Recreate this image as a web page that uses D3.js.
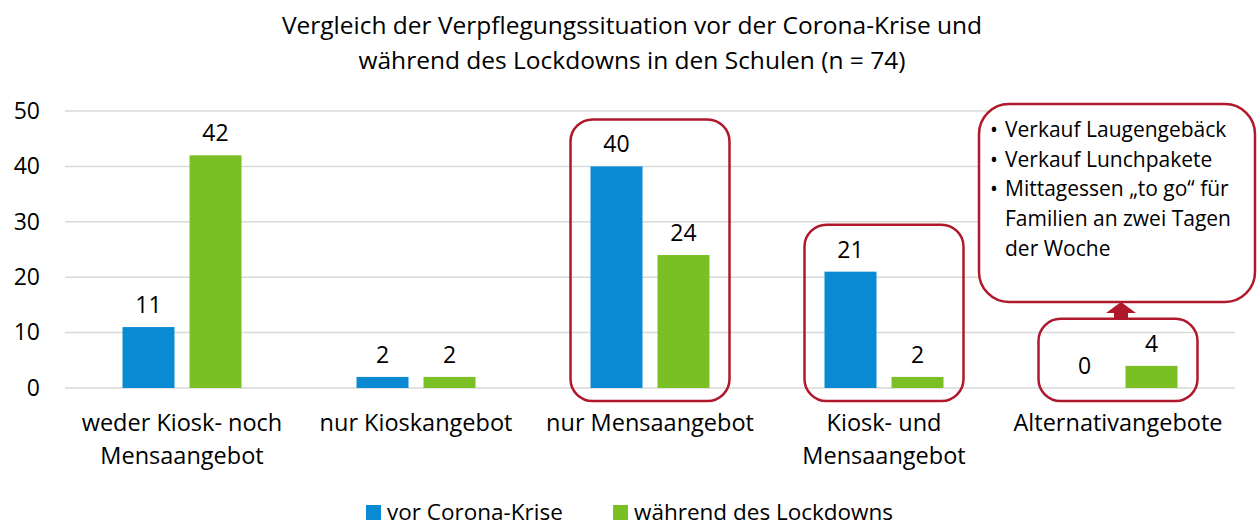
<!DOCTYPE html>
<html>
<head>
<meta charset="utf-8">
<script src="https://cdn.jsdelivr.net/npm/d3@7"></script>
<style>
  body { margin: 0; background: #fff; }
  text { font-family: "Open Sans", sans-serif; fill: #000; }
</style>
</head>
<body>
<script>
// chart data
var categories = [["weder Kiosk- noch", "Mensaangebot"], ["nur Kioskangebot"], ["nur Mensaangebot"], ["Kiosk- und", "Mensaangebot"], ["Alternativangebote"]];
var series = ["vor Corona-Krise", "während des Lockdowns"];
var vorCorona = [11, 2, 40, 21, 0];
var lockdown = [42, 2, 24, 2, 4];
var yTicks = [0, 10, 20, 30, 40, 50];
var titleLines = ["Vergleich der Verpflegungssituation vor der Corona-Krise und", "während des Lockdowns in den Schulen (n = 74)"];
var highlighted = [2, 3, 4];
var calloutLines = ["Verkauf Laugengeb\u00e4ck", "Verkauf Lunchpakete", "Mittagessen \u201eto go\u201c f\u00fcr", "Familien an zwei Tagen", "der Woche"];
var calloutBullets = [true, true, true, false, false];

var colors = ["#0a8ad2", "#7abf23"];
var red = "#b0182b";

var w = 1257, h = 525;
var plotLeft = 65, plotRight = 1235, plotTop = 111, plotBottom = 388;

var svg = d3.select("body").append("svg")
  .attr("width", w)
  .attr("height", h);

// scales
var x0 = d3.scaleBand()
  .domain(d3.range(categories.length))
  .range([plotLeft, plotRight]);

var x1 = d3.scaleBand()
  .domain([0, 1])
  .range([57.5, 176.5])
  .paddingInner(0.224);

var y = d3.scaleLinear()
  .domain([0, 50])
  .range([plotBottom, plotTop]);

// gridlines
svg.append("g")
  .selectAll("line")
  .data(yTicks)
  .enter()
  .append("line")
  .attr("x1", plotLeft)
  .attr("x2", plotRight)
  .attr("y1", function(d) { return y(d); })
  .attr("y2", function(d) { return y(d); })
  .attr("stroke", "#d9d9d9")
  .attr("stroke-width", 1.5);

// y axis labels
var yAxis = d3.axisLeft(y).tickValues(yTicks).tickSize(0).tickPadding(0);
var gy = svg.append("g")
  .attr("transform", "translate(40,0)")
  .call(yAxis);
gy.select(".domain").remove();
gy.selectAll("text")
  .style("font-family", "'Open Sans', sans-serif")
  .style("font-size", "23px")
  .attr("fill", "#000");

// title
svg.append("g")
  .selectAll("text")
  .data(titleLines)
  .enter()
  .append("text")
  .attr("x", 632)
  .attr("y", function(d, i) { return 34 + i * 34.5; })
  .style("text-anchor", "middle")
  .style("font-size", "24.5px")
  .text(function(d) { return d; });

// bars
var rows = categories.map(function(c, i) { return [vorCorona[i], lockdown[i]]; });

var groups = svg.selectAll(".group")
  .data(rows)
  .enter()
  .append("g")
  .attr("class", "group")
  .attr("transform", function(d, i) { return "translate(" + x0(i) + ",0)"; });

groups.selectAll("rect")
  .data(function(d) { return d; })
  .enter()
  .append("rect")
  .attr("x", function(d, i) { return x1(i); })
  .attr("width", x1.bandwidth())
  .attr("y", function(d) { return y(d); })
  .attr("height", function(d) { return plotBottom - y(d); })
  .attr("fill", function(d, i) { return colors[i]; });

groups.selectAll(".val")
  .data(function(d) { return d; })
  .enter()
  .append("text")
  .attr("class", "val")
  .attr("x", function(d, i) { return x1(i) + x1.bandwidth() / 2; })
  .attr("y", function(d) { return y(d) - 14; })
  .style("text-anchor", "middle")
  .style("font-size", "23px")
  .text(function(d) { return d; });

// category labels
svg.append("g")
  .selectAll("text")
  .data(categories)
  .enter()
  .append("text")
  .attr("x", function(d, i) { return x0(i) + x0.bandwidth() / 2; })
  .attr("y", 431)
  .style("text-anchor", "middle")
  .style("font-size", "23.5px")
  .each(function(d) {
    var t = d3.select(this);
    d.forEach(function(line, j) {
      t.append("tspan")
        .attr("x", t.attr("x"))
        .attr("dy", j == 0 ? 0 : 33)
        .text(line);
    });
  });

// red highlight boxes
svg.append("g")
  .selectAll("rect")
  .data(highlighted)
  .enter()
  .append("rect")
  .attr("x", function(i) { return x0(i) + x1(0) - 20; })
  .attr("width", x1(1) + x1.bandwidth() - x1(0) + 40)
  .attr("y", function(i) { return y(Math.max(vorCorona[i], lockdown[i])) - 47; })
  .attr("height", function(i) { return plotBottom + 13 - y(Math.max(vorCorona[i], lockdown[i])) + 47; })
  .attr("rx", 22)
  .attr("fill", "none")
  .attr("stroke", red)
  .attr("stroke-width", 2.5);

// callout box
var cx = x0(4) + x0.bandwidth() / 2 + 3;
svg.append("rect")
  .attr("x", 979)
  .attr("y", 104)
  .attr("width", 276)
  .attr("height", 198)
  .attr("rx", 30)
  .attr("fill", "#fff")
  .attr("stroke", red)
  .attr("stroke-width", 2.5);

// arrow from box to callout
var boxTop = y(Math.max(vorCorona[4], lockdown[4])) - 47;
svg.append("path")
  .attr("d", d3.line()([
    [cx - 7, boxTop], [cx - 7, 313], [cx - 15, 313], [cx, 302],
    [cx + 15, 313], [cx + 7, 313], [cx + 7, boxTop]
  ]))
  .attr("fill", red);

var callout = svg.append("g")
  .selectAll("g")
  .data(calloutLines)
  .enter()
  .append("g")
  .attr("transform", function(d, i) { return "translate(0," + (137 + i * 29.7) + ")"; });

callout.filter(function(d, i) { return calloutBullets[i]; })
  .append("text")
  .attr("x", 990)
  .style("font-size", "21px")
  .text("\u2022");

callout.append("text")
  .attr("x", 1005)
  .style("font-size", "21px")
  .text(function(d) { return d; });

// legend
var legendX = [366, 613];
var legend = svg.selectAll(".legend")
  .data(series)
  .enter()
  .append("g")
  .attr("class", "legend")
  .attr("transform", function(d, i) { return "translate(" + legendX[i] + ",505)"; });

legend.append("rect")
  .attr("width", 15)
  .attr("height", 15)
  .attr("fill", function(d, i) { return colors[i]; });

legend.append("text")
  .attr("x", 21)
  .attr("y", 14.5)
  .style("font-size", "22.5px")
  .text(function(d) { return d; });
</script>
</body>
</html>
